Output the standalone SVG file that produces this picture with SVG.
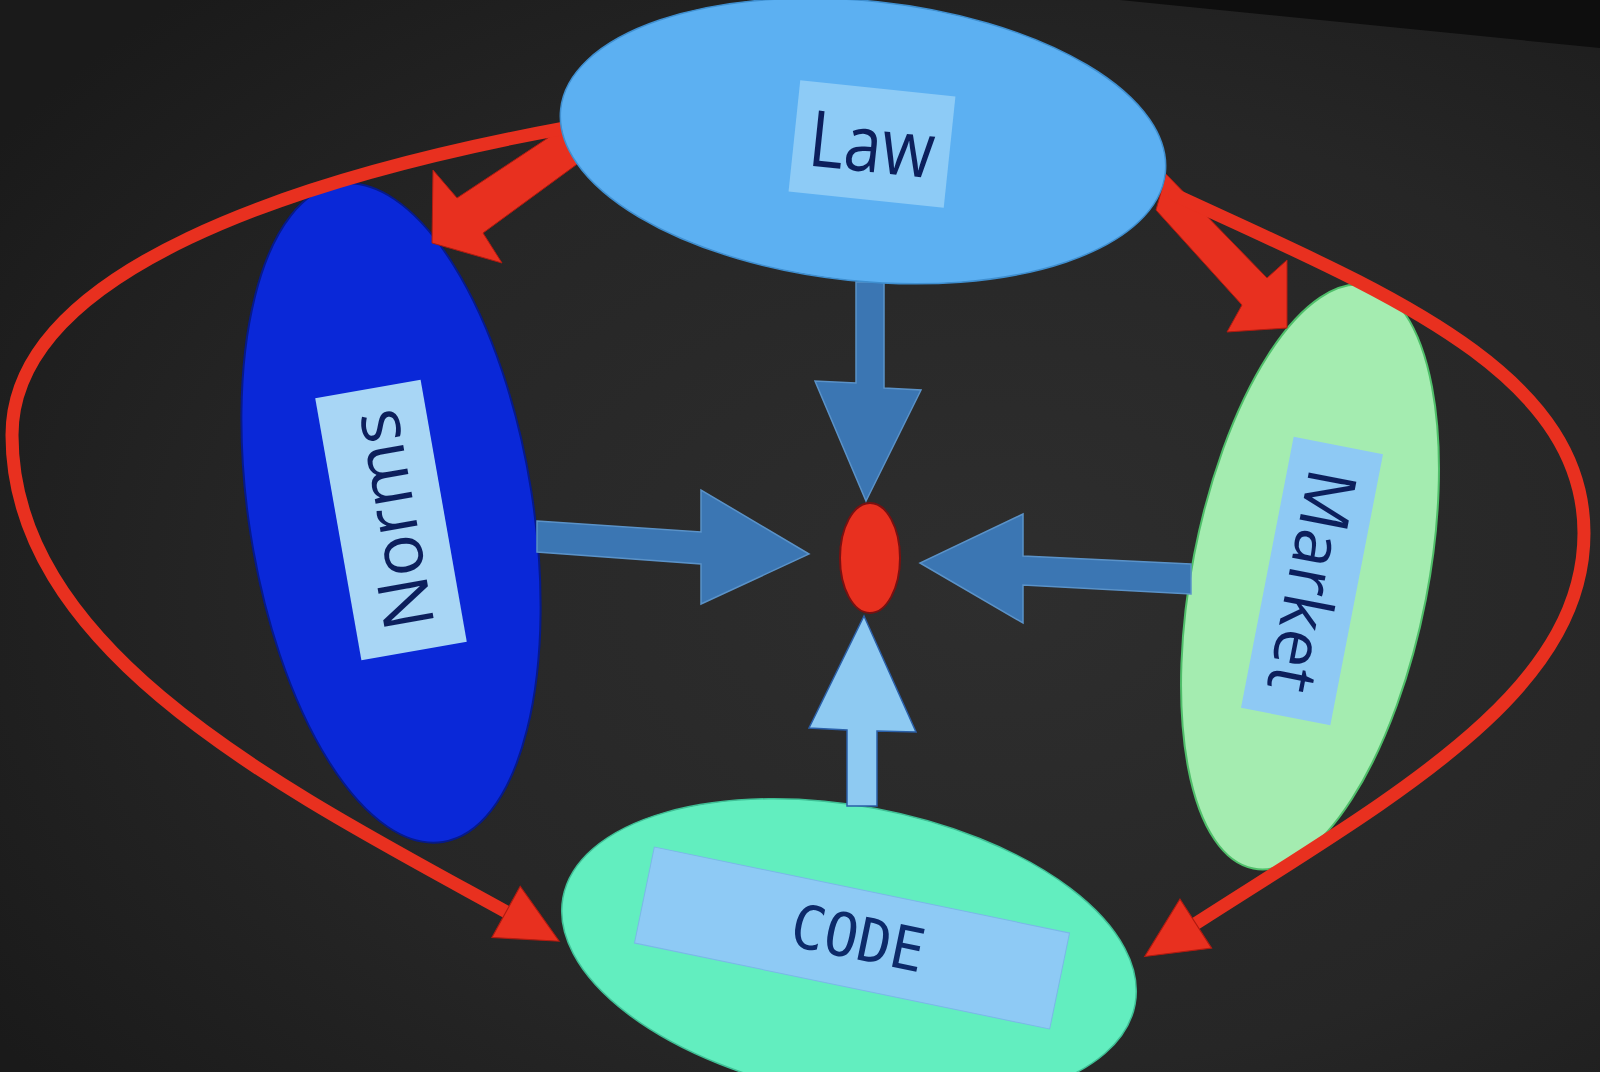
<svg xmlns="http://www.w3.org/2000/svg" width="1600" height="1072" viewBox="0 0 1600 1072">
  <defs>
    <radialGradient id="bg" cx="62%" cy="55%" r="75%">
      <stop offset="0" stop-color="#2e2e2e"/>
      <stop offset="0.6" stop-color="#262626"/>
      <stop offset="1" stop-color="#1a1a1a"/>
    </radialGradient>
    <marker id="redhead" markerUnits="userSpaceOnUse" markerWidth="90" markerHeight="90" viewBox="-10 -40 80 80" refX="0" refY="0" orient="auto">
      <path d="M50,0 L-4,-26 L-4,26 Z" fill="#e8301f" stroke="#b01a10" stroke-width="1"/>
    </marker>
    <style>
      .lbl { font-family: "Open Sans", "Noto Sans", "Liberation Sans", sans-serif; fill: #0c1f5c; text-anchor: middle; }
      .code { font-family: "DejaVu Sans Mono", "Liberation Mono", monospace; fill: #0c2a6a; text-anchor: middle; }
      .blue { fill: #3b76b3; stroke: #5a92c8; stroke-width: 1.5; }
      .light { fill: #8ecaf2; stroke: #2a5fa8; stroke-width: 1.5; }
      .thin { fill: none; stroke: #e8301f; stroke-width: 13; stroke-linecap: round; }
      .thick { fill: #e8301f; stroke: #b01a10; stroke-width: 1; }
    </style>
  </defs>

  <rect x="0" y="0" width="1600" height="1072" fill="url(#bg)"/>
  <polygon points="1120,0 1600,0 1600,48" fill="#0e0e0e"/>

  <g id="norms">
    <ellipse cx="391" cy="513" rx="142" ry="333" transform="rotate(-9 391 513)" fill="#0a28d8" stroke="#061a8a" stroke-width="2"/>
    <g transform="rotate(-100 391 520)">
      <rect x="258" y="466.5" width="266" height="107" fill="#a8d6f5"/>
      <text class="lbl" x="391" y="545" font-size="70">Norms</text>
    </g>
  </g>

  <g id="market">
    <ellipse cx="1310" cy="577" rx="118" ry="297" transform="rotate(11 1310 577)" fill="#a4ecb0" stroke="#4fbf6a" stroke-width="2"/>
    <g transform="rotate(101 1312 581)">
      <rect x="1174" y="535.5" width="276" height="91" fill="#8ec9f4"/>
      <text class="lbl" x="1312" y="605" font-size="68">Market</text>
    </g>
  </g>

  <g id="code">
    <ellipse cx="849" cy="951" rx="291" ry="145" transform="rotate(10.6 849 951)" fill="#62eebf" stroke="#3fbf95" stroke-width="1.5"/>
    <g transform="rotate(11.7 852 938)">
      <rect x="640" y="889" width="424" height="98" fill="#8ecaf5" stroke="#7ab8e8" stroke-width="1"/>
      <text class="code" x="858" y="958" font-size="60" textLength="135" lengthAdjust="spacingAndGlyphs">CODE</text>
    </g>
  </g>

  <g id="center">
    <ellipse cx="870" cy="558" rx="30" ry="55" fill="#e8301f" stroke="#7a1010" stroke-width="2"/>
  </g>

  <g id="connectors">
    <!-- blue block arrows into the centre -->
    <polygon class="blue" points="856,282 884,282 884,388 921,390 866,501 815,381 856,383"/>
    <polygon class="blue" points="537,521 701,532 701,490 809,554 701,604 701,564 537,552"/>
    <polygon class="blue" points="1191,564 1023,556 1023,514 920,563 1023,623 1023,585 1191,594"/>
    <polygon class="light" points="864,616 916,732 877,731 877,806 847,806 847,730 809,728"/>

    <!-- thick red arrows from Law -->
    <polygon class="thick" points="566,126 457,198 433,170 432,243 502,263 483,233 580,162"/>
    <polygon class="thick" points="1166,174 1267,278 1287,260 1287,328 1227,332 1242,305 1156,210"/>

    <!-- thin red curved arrows to CODE -->
    <path class="thin" d="M565,128 C300,177 12,270 12,435 C12,655 291,793 510,914" marker-end="url(#redhead)"/>
    <path class="thin" d="M1175,195 C1380,290 1584,370 1584,533 C1584,693 1394,796 1192,926" marker-end="url(#redhead)"/>
  </g>

  <g id="law">
    <ellipse cx="863" cy="141" rx="304" ry="140" transform="rotate(6 863 141)" fill="#5cb0f2" stroke="#3f8fd0" stroke-width="1.5"/>
    <g transform="rotate(6 872 144)">
      <rect x="794" y="88" width="156" height="112" fill="#8dcbf6"/>
      <text class="lbl" x="872" y="172" font-size="78" textLength="126" lengthAdjust="spacingAndGlyphs">Law</text>
    </g>
  </g>
</svg>
